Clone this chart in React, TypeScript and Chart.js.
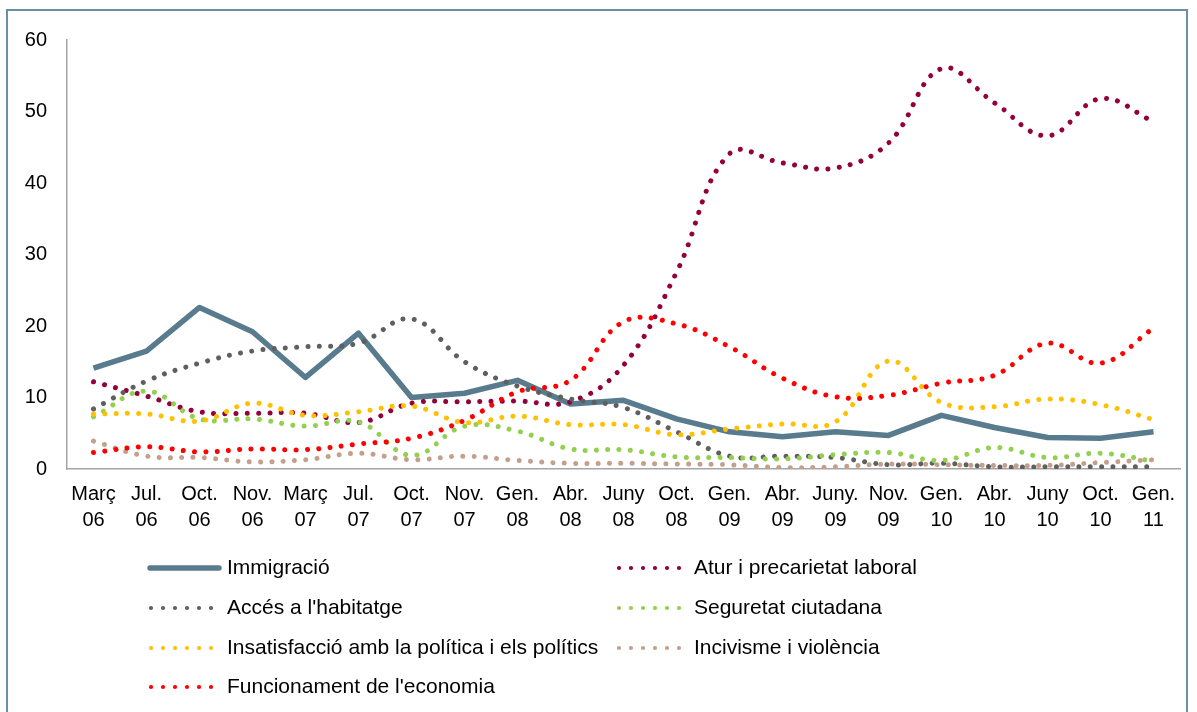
import React, { useEffect, useRef } from "react";
import { Chart, registerables } from "chart.js";

Chart.register(...registerables);

const categories: string[][] = [
  ["Març", "06"], ["Jul.", "06"], ["Oct.", "06"], ["Nov.", "06"], ["Març", "07"],
  ["Jul.", "07"], ["Oct.", "07"], ["Nov.", "07"], ["Gen.", "08"], ["Abr.", "08"],
  ["Juny", "08"], ["Oct.", "08"], ["Gen.", "09"], ["Abr.", "09"], ["Juny.", "09"],
  ["Nov.", "09"], ["Gen.", "10"], ["Abr.", "10"], ["Juny", "10"], ["Oct.", "10"],
  ["Gen.", "11"],
];

const immigracio = [14.1, 16.5, 22.6, 19.2, 12.8, 19.0, 10.0, 10.6, 12.4, 9.1, 9.6, 7.0, 5.2, 4.5, 5.2, 4.7, 7.5, 5.8, 4.4, 4.3, 5.2];
const atur = [12.2, 10.2, 8.0, 7.8, 7.8, 6.5, 9.2, 9.4, 9.5, 9.4, 14.5, 27.5, 44.1, 42.8, 42.1, 45.6, 56.0, 51.2, 46.6, 51.8, 48.6];
const acces = [8.4, 12.3, 14.8, 16.5, 17.1, 17.6, 21.0, 15.0, 11.6, 9.8, 8.6, 5.2, 1.8, 1.8, 1.6, 0.6, 0.8, 0.3, 0.3, 0.3, 0.3];
const seguretat = [7.3, 10.9, 7.0, 7.0, 6.0, 6.6, 1.9, 6.0, 5.3, 2.8, 2.7, 1.7, 1.6, 1.4, 2.0, 2.3, 1.2, 3.0, 1.6, 2.2, 1.1];
const insatisfaccio = [7.7, 7.7, 6.7, 9.2, 7.5, 8.0, 8.8, 6.5, 7.4, 6.2, 6.2, 4.8, 5.6, 6.3, 6.6, 15.1, 9.3, 8.7, 9.8, 9.0, 6.9];
const incivisme = [3.9, 1.8, 1.6, 1.0, 1.3, 2.2, 1.3, 1.8, 1.2, 0.8, 0.8, 0.7, 0.6, 0.2, 0.3, 0.7, 0.6, 0.5, 0.5, 0.9, 1.3];
const funcionament = [2.3, 3.1, 2.4, 2.8, 2.7, 3.5, 4.3, 6.8, 10.8, 12.4, 20.6, 20.3, 17.1, 12.7, 10.1, 10.3, 12.0, 13.1, 17.6, 14.8, 19.7];

const yTicks = [0, 10, 20, 30, 40, 50, 60];

const seriesNames = [
  "Immigració",
  "Atur i precarietat laboral",
  "Accés a l'habitatge",
  "Seguretat ciutadana",
  "Insatisfacció amb la política i els polítics",
  "Incivisme i violència",
  "Funcionament de l'economia",
];
const seriesValues = [immigracio, atur, acces, seguretat, insatisfaccio, incivisme, funcionament];
const seriesColors = ["#587B8E", "#93003A", "#5F5F5F", "#92D050", "#FFC000", "#C4A08C", "#FF0000"];

const FONT = '"Liberation Sans", Arial, sans-serif';

const legendPlugin = {
  id: "customLegend",
  afterDraw(chart: any) {
    const ctx = chart.ctx;
    const colX = [148, 616];
    const textX = [227, 694];
    const rowY = [568, 608, 648, 687];
    chart.data.datasets.forEach((ds: any, i: number) => {
      const col = i % 2;
      const row = Math.floor(i / 2);
      const y = rowY[row];
      ctx.save();
      ctx.strokeStyle = ds.borderColor;
      ctx.lineCap = "round";
      ctx.beginPath();
      if (i === 0) {
        ctx.lineWidth = 5.5;
        ctx.setLineDash([]);
        ctx.moveTo(colX[col] + 2, y);
        ctx.lineTo(colX[col] + 71, y);
      } else {
        ctx.lineWidth = 4.2;
        ctx.setLineDash([0.001, 12]);
        ctx.moveTo(colX[col] + 3, y);
        ctx.lineTo(colX[col] + 64, y);
      }
      ctx.stroke();
      ctx.setLineDash([]);
      ctx.fillStyle = "#000000";
      ctx.font = `21px ${FONT}`;
      ctx.textAlign = "left";
      ctx.textBaseline = "middle";
      ctx.fillText(ds.label, textX[col], y);
      ctx.restore();
    });
  },
};

export default function App() {
  const canvasRef = useRef<HTMLCanvasElement | null>(null);

  useEffect(() => {
    if (!canvasRef.current) return;
    const datasets = seriesNames.map((name, i) => ({
      label: name,
      data: seriesValues[i],
      borderColor: seriesColors[i],
      backgroundColor: seriesColors[i],
      borderWidth: i === 0 ? 5.5 : 5,
      borderDash: i === 0 ? [] : [0.001, 11.3],
      borderCapStyle: i === 0 ? "butt" : "round",
      borderJoinStyle: "round",
      tension: i === 0 ? 0 : 0.4,
      pointRadius: 0,
      pointHoverRadius: 0,
      fill: false,
      order: -i,
    }));
    const chart = new Chart(canvasRef.current, {
      type: "line",
      data: { labels: categories, datasets: datasets as any },
      plugins: [legendPlugin],
      options: {
        responsive: false,
        animation: false,
        events: [],
        layout: { padding: { left: 0, top: 40, right: 17, bottom: 163 } },
        plugins: {
          legend: { display: false },
          tooltip: { enabled: false },
          title: { display: false },
        },
        scales: {
          x: {
            type: "category",
            offset: true,
            grid: { display: false, drawTicks: false },
            border: { display: true, color: "#A6A6A6", width: 1.5 },
            ticks: {
              autoSkip: false,
              maxRotation: 0,
              minRotation: 0,
              padding: 12,
              color: "#000000",
              font: { family: FONT, size: 20, lineHeight: 1.3 },
            },
            afterFit: (scale: any) => {
              scale.height = 80;
            },
          },
          y: {
            min: 0,
            max: 60,
            afterBuildTicks: (scale: any) => {
              scale.ticks = yTicks.map((v) => ({ value: v }));
            },
            grid: { display: false, drawTicks: false },
            border: { display: true, color: "#A6A6A6", width: 1.5 },
            ticks: {
              padding: 20,
              color: "#000000",
              font: { family: FONT, size: 20 },
            },
            afterFit: (scale: any) => {
              scale.width = 67;
            },
          },
        },
      } as any,
    });
    return () => chart.destroy();
  }, []);

  return (
    <div style={{ position: "absolute", left: 0, top: 0, width: 1197, height: 712, overflow: "hidden", background: "#ffffff" }}>
      <div
        style={{
          position: "absolute",
          left: 6,
          top: 9,
          width: 1182,
          height: 720,
          borderLeft: "2px solid #6E8EA3",
          borderTop: "2px solid #6E8EA3",
          borderRight: "2px solid #6E8EA3",
          boxSizing: "border-box",
        }}
      />
      <canvas
        ref={canvasRef}
        width={1197}
        height={712}
        style={{ position: "absolute", left: 0, top: 0, width: 1197, height: 712 }}
      />
    </div>
  );
}
